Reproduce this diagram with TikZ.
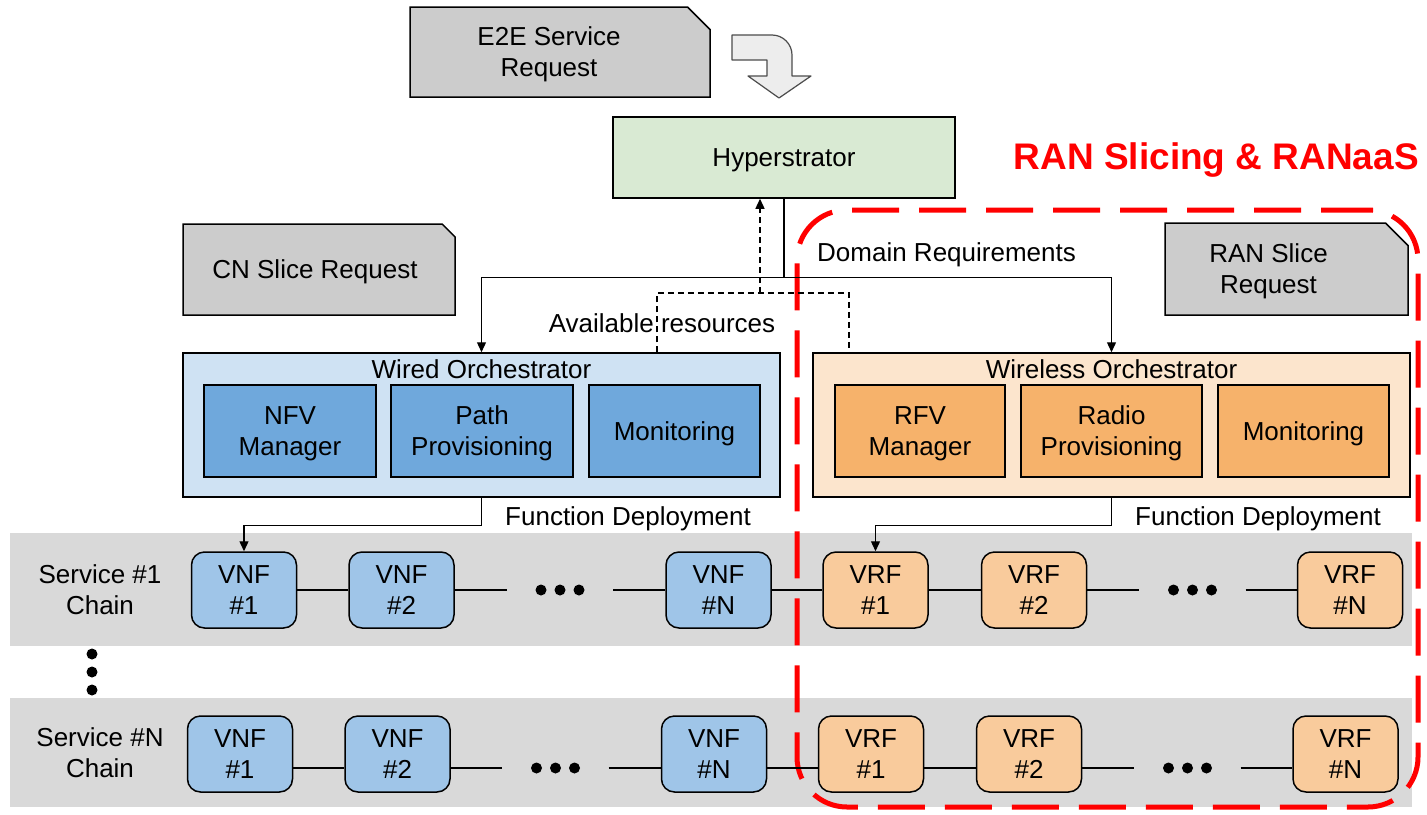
\documentclass[tikz,border=0pt]{standalone}
\usepackage{fontspec}
\setmainfont{Liberation Sans}
\usetikzlibrary{arrows.meta,shapes.misc}

\definecolor{reqgray}{HTML}{CCCCCC}
\definecolor{bandgray}{HTML}{D9D9D9}
\definecolor{hypergreen}{HTML}{D9EAD3}
\definecolor{wiredblue}{HTML}{CFE2F3}
\definecolor{wiredpart}{HTML}{6FA8DC}
\definecolor{vnfblue}{HTML}{9FC5E8}
\definecolor{wirelessorange}{HTML}{FCE5CD}
\definecolor{wirelesspart}{HTML}{F6B26B}
\definecolor{vrforange}{HTML}{F9CB9C}

\begin{document}
\begin{tikzpicture}[x=1pt,y=1pt,
  every node/.style={font=\fontsize{26}{31}\selectfont,align=center},
  box/.style={draw=black,line width=1.5pt,rectangle,inner sep=0pt,text depth=0pt},
  request/.style={draw=black,line width=1.5pt,fill=reqgray,chamfered rectangle,
    chamfered rectangle corners=north east,chamfered rectangle xsep=19pt,inner sep=0pt,text depth=0pt},
  part/.style={box,minimum height=92pt},
  vnf/.style={box,rounded corners=13pt,fill=vnfblue,minimum width=105pt,minimum height=76pt},
  vrf/.style={vnf,fill=vrforange},
  band/.style={fill=bandgray,minimum width=1402pt,inner sep=0pt},
  gap/.style={inner sep=0pt,minimum width=106pt,minimum height=0pt},
  lbl/.style={inner sep=0pt},
  link/.style={line width=1.3pt},
  arr/.style={link,-{Triangle[length=10pt,width=9pt]}},
  ranregion/.style={draw=red,line width=5pt,dash pattern=on 47pt off 20pt,rounded corners=50pt}
]
\useasboundingbox (0,0) rectangle (1427,-814);

% service chain bands
\node[band,minimum height=113pt] (band1) at (711,-589.5) {};
\node[band,minimum height=109pt] (bandN) at (711,-752.5) {};

% RAN slicing region
\node[ranregion,minimum width=621pt,minimum height=597pt] (ranbox) at (1107.5,-508.5) {};
\node[lbl,anchor=east,text=red,font=\bfseries\fontsize{37}{44}\selectfont] (rantitle) at (1419,-160) {RAN Slicing \& RANaaS};

% requests
\node[request,minimum width=300pt,minimum height=90pt] (e2e) at (560,-52) {E2E Service\hspace*{22pt}\\Request\hspace*{22pt}};
\node[request,minimum width=272pt,minimum height=91pt] (cnreq) at (319,-269.5) {CN Slice Request\hspace*{8pt}};
\node[request,minimum width=243pt,minimum height=92pt] (ranreq) at (1286.5,-269) {RAN Slice\hspace*{36pt}\\Request\hspace*{36pt}};
\draw[draw=black!70,fill=black!7,line width=1.2pt,line join=round]
  (732,-35) -- (772,-35) .. controls (783,-35) and (792,-44) .. (792,-55) -- (792,-76)
  -- (811,-76) -- (779,-98) -- (748,-76) -- (767,-76) -- (767,-60) -- (732,-60) -- cycle;

\node[box,fill=hypergreen,minimum width=342pt,minimum height=81pt] (hyper) at (784,-157.5) {Hyperstrator};

% orchestrators
\node[box,fill=wiredblue,minimum width=597pt,minimum height=144pt] (wired) at (481.5,-425) {};
\node[lbl] (wiredtitle) at (481.5,-369) {Wired Orchestrator};
\node[part,fill=wiredpart,minimum width=172pt] (nfv) at (290,-431) {NFV\\Manager};
\node[part,fill=wiredpart,minimum width=182pt] (path) at (482,-431) {Path\\Provisioning};
\node[part,fill=wiredpart,minimum width=171pt] (wiredmon) at (674.5,-431) {Monitoring};

\node[box,fill=wirelessorange,minimum width=597pt,minimum height=144pt] (wireless) at (1111.5,-425) {};
\node[lbl] (wirelesstitle) at (1111.5,-369) {Wireless Orchestrator};
\node[part,fill=wirelesspart,minimum width=170pt] (rfv) at (920,-431) {RFV\\Manager};
\node[part,fill=wirelesspart,minimum width=181pt] (radio) at (1111.5,-431) {Radio\\Provisioning};
\node[part,fill=wirelesspart,minimum width=171pt] (wirelessmon) at (1303.5,-431) {Monitoring};

% labels
\node[lbl,anchor=base west] (domreq) at (817,-261) {Domain Requirements};
\node[lbl,anchor=base] (avail) at (662,-332) {Available resources};
\node[lbl,anchor=base west] (fdwired) at (505,-525) {Function Deployment};
\node[lbl,anchor=base west] (fdwireless) at (1135,-525) {Function Deployment};

% chain #1
\node (chain1) at (100,-590) {Service \#1\\Chain};
\node[vnf] (vnf11) at (244,-590) {VNF\\\#1};
\node[vnf] (vnf12) at (401.5,-590) {VNF\\\#2};
\node[gap] (gap1w) at (560,-590) {};
\node[vnf] (vnf1n) at (718.5,-590) {VNF\\\#N};
\node[vrf] (vrf11) at (875.5,-590) {VRF\\\#1};
\node[vrf] (vrf12) at (1034,-590) {VRF\\\#2};
\node[gap] (gap1r) at (1192.5,-590) {};
\node[vrf] (vrf1n) at (1350,-590) {VRF\\\#N};

% chain #N
\node (chainN) at (100,-753) {Service \#N\\Chain};
\node[vnf] (vnfN1) at (240,-754) {VNF\\\#1};
\node[vnf] (vnfN2) at (397.5,-754) {VNF\\\#2};
\node[gap] (gapNw) at (555.5,-768) {};
\node[vnf] (vnfNn) at (714,-754) {VNF\\\#N};
\node[vrf] (vrfN1) at (871,-754) {VRF\\\#1};
\node[vrf] (vrfN2) at (1029,-754) {VRF\\\#2};
\node[gap] (gapNr) at (1187.5,-768) {};
\node[vrf] (vrfNn) at (1345.5,-754) {VRF\\\#N};

% dots
\foreach \g in {gap1w,gap1r,gapNw,gapNr}
  \foreach \d in {-19,0,19}
    \fill ([xshift=\d pt]\g.center) circle (5.5pt);
\foreach \y in {654,672,690}
  \fill (92,-\y) circle (5.5pt);

% chain links
\draw[link] (vnf11) -- (vnf12);
\draw[link] (vnf12) -- (gap1w.west);
\draw[link] (gap1w.east) -- (vnf1n);
\draw[link] (vnf1n) -- (vrf11);
\draw[link] (vrf11) -- (vrf12);
\draw[link] (vrf12) -- (gap1r.west);
\draw[link] (gap1r.east) -- (vrf1n);
\draw[link] ([yshift=-14pt]vnfN1.east) -- ([yshift=-14pt]vnfN2.west);
\draw[link] ([yshift=-14pt]vnfN2.east) -- (gapNw.west);
\draw[link] (gapNw.east) -- ([yshift=-14pt]vnfNn.west);
\draw[link] ([yshift=-14pt]vnfNn.east) -- ([yshift=-14pt]vrfN1.west);
\draw[link] ([yshift=-14pt]vrfN1.east) -- ([yshift=-14pt]vrfN2.west);
\draw[link] ([yshift=-14pt]vrfN2.east) -- (gapNr.west);
\draw[link] (gapNr.east) -- ([yshift=-14pt]vrfNn.west);

% hyperstrator connectors
\draw[link] (hyper.south) -- ++(0,-79) coordinate (split);
\draw[arr] (split) -| (wired.north);
\draw[arr] (split) -| (wireless.north);
\coordinate (availtop) at (760,-293);
\draw[link,dash pattern=on 6pt off 4pt] ([xshift=175.5pt]wired.north) |- (availtop) -| ([xshift=-262.5pt]wireless.north);
\draw[arr,dash pattern=on 6pt off 4pt] (availtop) -- (availtop |- hyper.south);

% function deployment
\draw[arr] (wired.south) -- ++(0,-28) -| (vnf11.north);
\draw[arr] (wireless.south) -- ++(0,-28) -| (vrf11.north);
\end{tikzpicture}
\end{document}
